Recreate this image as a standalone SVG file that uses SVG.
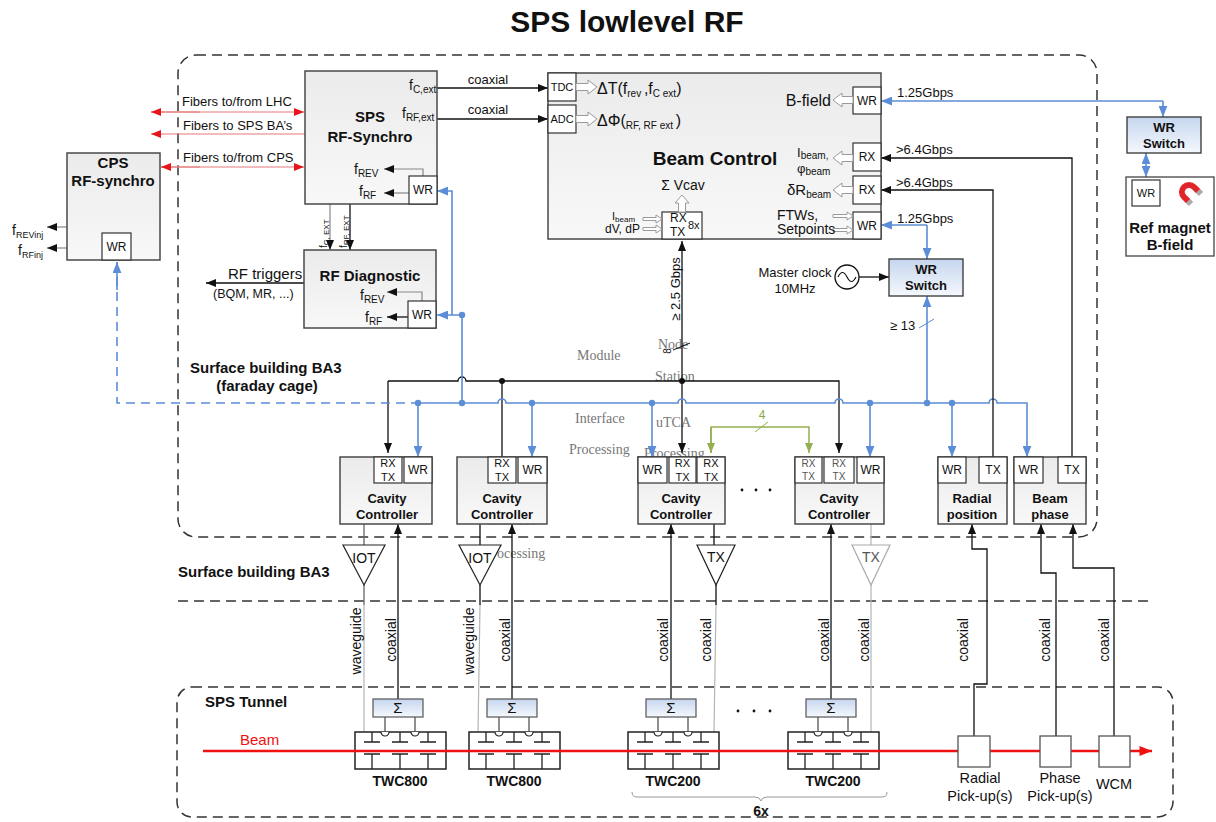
<svg xmlns="http://www.w3.org/2000/svg" width="1216" height="822" viewBox="0 0 1216 822">
<defs>
  <linearGradient id="gBox" x1="0" y1="0" x2="0" y2="1">
    <stop offset="0" stop-color="#ebebeb"/><stop offset="1" stop-color="#f8f8f8"/>
  </linearGradient>
  <linearGradient id="gBlue" x1="0" y1="0" x2="0" y2="1">
    <stop offset="0" stop-color="#c6d6ee"/><stop offset="1" stop-color="#f5f8fd"/>
  </linearGradient>
  <marker id="aK" viewBox="0 0 10 8" refX="10" refY="4" markerWidth="10" markerHeight="8" markerUnits="userSpaceOnUse" orient="auto"><path d="M0,0 L10,4 L0,8 z" fill="#111"/></marker>
  <marker id="aB" viewBox="0 0 10 8" refX="10" refY="4" markerWidth="11" markerHeight="9" markerUnits="userSpaceOnUse" orient="auto"><path d="M0,0 L10,4 L0,8 z" fill="#5b8ed6"/></marker>
  <marker id="aR" viewBox="0 0 10 8" refX="10" refY="4" markerWidth="10" markerHeight="8" markerUnits="userSpaceOnUse" orient="auto"><path d="M0,0 L10,4 L0,8 z" fill="#e8141b"/></marker>
  <marker id="aG" viewBox="0 0 10 8" refX="10" refY="4" markerWidth="10" markerHeight="9" markerUnits="userSpaceOnUse" orient="auto"><path d="M0,0 L10,4 L0,8 z" fill="#92b050"/></marker>
  <marker id="aBeam" viewBox="0 0 10 8" refX="10" refY="4" markerWidth="14" markerHeight="10" markerUnits="userSpaceOnUse" orient="auto"><path d="M0,0 L10,4 L0,8 z" fill="#f01010"/></marker>
  <!-- travelling-wave cavity body: 91 x 37 with couplers -->
  <g id="twc">
    <rect x="0" y="0" width="91" height="37" fill="#fff" stroke="#222" stroke-width="1.5"/>
    <path d="M17,0 V10 M9,10 H25 M45,0 V10 M37,10 H53 M73,0 V10 M65,10 H81 M9,22 H25 M17,22 V37 M37,22 H53 M45,22 V37 M65,22 H81 M73,22 V37" stroke="#222" stroke-width="1.3" fill="none"/>
    <path d="M26,0 a4,4 0 0 0 8,0 M56,0 a4,4 0 0 0 8,0" stroke="#222" stroke-width="1.2" fill="#fff"/>
    <rect x="18" y="-33" width="50" height="18" fill="url(#gBlue)" stroke="#555" stroke-width="1.2"/>
    <text x="43" y="-19" text-anchor="middle" font-family="Liberation Serif, serif" font-size="15" fill="#222">Σ</text>
    <path d="M30,-15 V0 M60,-15 V0" stroke="#555" stroke-width="1.3" fill="none"/>
  </g>
</defs>
<style>
  text{font-family:"Liberation Sans",Arial,sans-serif;fill:#111}
  .box{fill:url(#gBox);stroke:#4a4a4a;stroke-width:1.5}
  .sb{fill:#fff;stroke:#333;stroke-width:1.2}
  .bb{fill:url(#gBlue);stroke:#333;stroke-width:1.3}
  .k{stroke:#111;stroke-width:1.3;fill:none}
  .gl{stroke:#888;stroke-width:1.2;fill:none}
  .lg{stroke:#b5b5b5;stroke-width:1.2;fill:none}
  .b{stroke:#5b8ed6;stroke-width:1.6;fill:none}
  .bd{stroke:#5b8ed6;stroke-width:1.6;fill:none;stroke-dasharray:9 6}
  .fib{stroke:#e57a7a;stroke-width:1.2;fill:none}
  .dash{stroke:#333;stroke-width:1.5;stroke-dasharray:10 6;fill:none}
  .hol{fill:#fff;stroke:#9a9a9a;stroke-width:1}
  .ghost{font-family:"Liberation Serif",serif;fill:#777;font-size:14px}
  .t{font-size:12px;text-anchor:middle}
  .h{font-weight:bold;text-anchor:middle}
  .rot{font-size:14px;text-anchor:middle}
</style>

<rect width="1216" height="822" fill="#fff"/>
<text x="627" y="32" font-size="30" font-weight="bold" text-anchor="middle">SPS lowlevel RF</text>

<!-- building / tunnel outlines -->
<g id="areas">
  <rect x="178" y="55" width="919" height="482" rx="18" class="dash"/>
  <line x1="178" y1="601" x2="1150" y2="601" class="dash"/>
  <rect x="177" y="687" width="996" height="130" rx="15" class="dash"/>
  <text x="190" y="373" font-size="15" font-weight="bold">Surface building BA3</text>
  <text x="267" y="391" font-size="15" class="h">(faraday cage)</text>
  <text x="178" y="577" font-size="15" font-weight="bold">Surface building BA3</text>
  <text x="205" y="707" font-size="15" font-weight="bold">SPS Tunnel</text>
</g>

<!-- faint overlay labels -->
<g id="overlay-labels">
  <text x="577" y="360" class="ghost">Module</text>
  <text x="658" y="349" class="ghost">Node</text>
  <text x="655" y="381" class="ghost">Station</text>
  <text x="575" y="423" class="ghost">Interface</text>
  <text x="656" y="427" class="ghost">uTCA</text>
  <text x="569" y="454" class="ghost">Processing</text>
  <text x="644" y="458" class="ghost">Processing</text>
  <text x="487" y="525" class="ghost" style="fill:#aaa">interface</text>
  <text x="497" y="558" class="ghost">ocessing</text>
</g>

<!-- connectors -->
<g id="connectors">
  <!-- fibers -->
  <line x1="151" y1="112" x2="304" y2="112" class="fib" marker-end="url(#aR)"/>
  <line x1="200" y1="112" x2="151" y2="112" class="fib" marker-end="url(#aR)"/>
  <line x1="200" y1="134" x2="151" y2="134" class="fib" marker-end="url(#aR)"/>
  <line x1="200" y1="134" x2="305" y2="134" class="fib"/>
  <line x1="161" y1="167" x2="304" y2="167" class="fib" marker-end="url(#aR)"/>
  <line x1="200" y1="167" x2="161" y2="167" class="fib" marker-end="url(#aR)"/>
  <text x="182" y="106" font-size="13">Fibers to/from LHC</text>
  <text x="183" y="130" font-size="13">Fibers to SPS BA’s</text>
  <text x="183" y="162" font-size="13">Fibers to/from CPS</text>

  <!-- coaxial to beam control -->
  <line x1="437" y1="88" x2="548" y2="88" class="k" marker-end="url(#aK)"/>
  <line x1="437" y1="119" x2="548" y2="119" class="k" marker-end="url(#aK)"/>
  <text x="488" y="84" font-size="13" text-anchor="middle">coaxial</text>
  <text x="488" y="114" font-size="13" text-anchor="middle">coaxial</text>

  <!-- synchro to diagnostic -->
  <line x1="330" y1="204" x2="330" y2="250" class="gl" marker-end="url(#aK)"/>
  <line x1="350" y1="204" x2="350" y2="250" class="k" marker-end="url(#aK)"/>
  <text transform="translate(327,248) rotate(-90)" font-size="10">f<tspan font-size="8" dy="2">C, EXT</tspan></text>
  <text transform="translate(347,248) rotate(-90)" font-size="10">f<tspan font-size="8" dy="2">RF, EXT</tspan></text>

  <!-- RF triggers -->
  <line x1="304" y1="283" x2="206" y2="283" class="k" marker-end="url(#aK)"/>
  <text x="228" y="279" font-size="15">RF triggers</text>
  <text x="213" y="298" font-size="12.5">(BQM, MR, ...)</text>

  <!-- CPS outputs -->
  <line x1="67" y1="227" x2="47" y2="227" class="gl" marker-end="url(#aK)"/>
  <line x1="67" y1="248" x2="47" y2="248" class="gl" marker-end="url(#aK)"/>
  <text x="12" y="235" font-size="14">f<tspan font-size="9" dy="3">REVinj</tspan></text>
  <text x="18" y="255" font-size="14">f<tspan font-size="9" dy="3">RFinj</tspan></text>

  <!-- black node/station bus -->
  <path d="M388,381 H458 a4,4 0 0 1 8,0 H839 V453" class="k" marker-end="url(#aK)"/>
  <line x1="388" y1="381" x2="388" y2="453" class="k" marker-end="url(#aK)"/>
  <line x1="502" y1="381" x2="502" y2="457" class="k"/>
  <line x1="682" y1="381" x2="682" y2="241" class="k" marker-end="url(#aK)"/>
  <line x1="682" y1="381" x2="682" y2="453" class="k" marker-end="url(#aK)"/>
  <circle cx="502" cy="381" r="3" fill="#111"/>
  <circle cx="682" cy="381" r="3" fill="#111"/>
  <text transform="translate(680,289) rotate(-90)" font-size="13" text-anchor="middle">≥ 2.5 Gbps</text>
  <line x1="673" y1="350" x2="690" y2="343" stroke="#111" stroke-width="1"/>
  <text transform="translate(671,351) rotate(-90)" font-size="10" text-anchor="middle">8</text>

  <!-- green link between cavity controllers -->
  <path d="M711,453 V427 H809 V453" stroke="#92b050" stroke-width="1.5" fill="none" marker-end="url(#aG)"/>
  <line x1="711" y1="428" x2="711" y2="453" stroke="#92b050" stroke-width="1.5" marker-end="url(#aG)"/>
  <line x1="755" y1="432" x2="768" y2="422" stroke="#92b050" stroke-width="1"/>
  <text x="762" y="419" font-size="12" style="fill:#8aaa48" text-anchor="middle">4</text>

  <!-- white rabbit distribution (blue) -->
  <path d="M117,262 V403 H415" class="bd"/>
  <line x1="117" y1="290" x2="117" y2="262" class="b" marker-end="url(#aB)"/>
  <path d="M415,403 H498 a4,4 0 0 1 8,0 H678 a4,4 0 0 1 8,0 H835 a4,4 0 0 1 8,0 H989 a4,4 0 0 1 8,0 H1027 V457" class="b" marker-end="url(#aB)"/>
  <line x1="418" y1="403" x2="418" y2="457" class="b" marker-end="url(#aB)"/>
  <line x1="532" y1="403" x2="532" y2="457" class="b" marker-end="url(#aB)"/>
  <line x1="652" y1="403" x2="652" y2="457" class="b" marker-end="url(#aB)"/>
  <line x1="870" y1="403" x2="870" y2="457" class="b" marker-end="url(#aB)"/>
  <line x1="952" y1="403" x2="952" y2="457" class="b" marker-end="url(#aB)"/>
  <path d="M462,403 V315 H437" class="b" marker-end="url(#aB)"/>
  <path d="M452,315 V191 H437" class="b" marker-end="url(#aB)"/>
  <line x1="927" y1="403" x2="927" y2="296" class="b" marker-end="url(#aB)"/>
  <line x1="919" y1="328" x2="934" y2="319" stroke="#5b8ed6" stroke-width="1"/>
  <text x="890" y="330" font-size="13">≥ 13</text>
  <g fill="#5b8ed6">
    <circle cx="418" cy="403" r="3.2"/><circle cx="462" cy="403" r="3.2"/><circle cx="532" cy="403" r="3.2"/>
    <circle cx="652" cy="403" r="3.2"/><circle cx="870" cy="403" r="3.2"/><circle cx="927" cy="403" r="3.2"/>
    <circle cx="952" cy="403" r="3.2"/><circle cx="462" cy="315" r="3.2"/>
  </g>
  <path d="M927,225 H881" class="b" marker-end="url(#aB)"/>
  <path d="M927,225 V259" class="b" marker-end="url(#aB)"/>
  <path d="M1163,101 H881" class="b" marker-end="url(#aB)"/>
  <path d="M1163,101 V117" class="b" marker-end="url(#aB)"/>
  <line x1="1146" y1="165" x2="1146" y2="153" class="b" marker-end="url(#aB)"/>
  <line x1="1146" y1="165" x2="1146" y2="177" class="b" marker-end="url(#aB)"/>
  <text x="897" y="97" font-size="13">1.25Gbps</text>
  <text x="897" y="223" font-size="13">1.25Gbps</text>

  <!-- beam measurement links -->
  <path d="M1072,457 V158 H881" class="k" marker-end="url(#aK)"/>
  <path d="M993,457 V190 H881" class="k" marker-end="url(#aK)"/>
  <text x="896" y="154" font-size="13">&gt;6.4Gbps</text>
  <text x="896" y="187" font-size="13">&gt;6.4Gbps</text>

  <!-- master clock -->
  <line x1="859" y1="277" x2="889" y2="277" class="k" marker-end="url(#aK)"/>

  <!-- RF power chains -->
  <path d="M364,524 V545 M364,585 V605" stroke="#666" stroke-width="1.3" fill="none"/>
  <line x1="364" y1="605" x2="364" y2="732" class="lg"/>
  <path d="M480,524 V545 M480,585 V605" class="k"/>
  <line x1="480" y1="605" x2="478" y2="732" class="lg"/>
  <path d="M714,524 V545 M716,585 V605" class="k"/>
  <line x1="716" y1="605" x2="714" y2="732" class="lg"/>
  <path d="M871,524 V545 M871,585 V732" class="lg"/>
  <line x1="398" y1="699" x2="398" y2="524" class="k" marker-end="url(#aK)"/>
  <line x1="512" y1="699" x2="512" y2="524" class="k" marker-end="url(#aK)"/>
  <line x1="671" y1="699" x2="671" y2="524" class="k" marker-end="url(#aK)"/>
  <line x1="831" y1="699" x2="831" y2="524" class="k" marker-end="url(#aK)"/>
  <text transform="translate(361,641) rotate(-90)" class="rot">waveguide</text>
  <text transform="translate(396,640) rotate(-90)" class="rot">coaxial</text>
  <text transform="translate(474,641) rotate(-90)" class="rot">waveguide</text>
  <text transform="translate(510,640) rotate(-90)" class="rot">coaxial</text>
  <text transform="translate(668,640) rotate(-90)" class="rot">coaxial</text>
  <text transform="translate(711,640) rotate(-90)" class="rot">coaxial</text>
  <text transform="translate(829,640) rotate(-90)" class="rot">coaxial</text>
  <text transform="translate(869,640) rotate(-90)" class="rot">coaxial</text>

  <!-- pick-up cables -->
  <path d="M974,736 V684 H987 V549 H972 V524" class="k" marker-end="url(#aK)"/>
  <path d="M1056,736 V573 H1041 V524" class="k" marker-end="url(#aK)"/>
  <path d="M1114,736 V568 H1073 V524" class="k" marker-end="url(#aK)"/>
  <text transform="translate(968,640) rotate(-90)" class="rot">coaxial</text>
  <text transform="translate(1050,640) rotate(-90)" class="rot">coaxial</text>
  <text transform="translate(1109,640) rotate(-90)" class="rot">coaxial</text>
</g>

<!-- CPS RF-synchro -->
<g id="cps-synchro">
  <rect x="67" y="153" width="93" height="107" class="box"/>
  <text x="113" y="168" font-size="15" class="h">CPS</text>
  <text x="113" y="186" font-size="15" class="h">RF-synchro</text>
  <rect x="102" y="233" width="29" height="27" class="sb"/>
  <text x="116.5" y="251" class="t">WR</text>
</g>

<!-- SPS RF-Synchro -->
<g id="sps-synchro">
  <rect x="305" y="71" width="132" height="133" class="box"/>
  <text x="370" y="122" font-size="15" class="h">SPS</text>
  <text x="370" y="142" font-size="15" class="h">RF-Synchro</text>
  <text x="409" y="90" font-size="14">f<tspan font-size="10" dy="3">C,ext</tspan></text>
  <text x="402" y="118" font-size="14">f<tspan font-size="10" dy="3">RF,ext</tspan></text>
  <text x="354" y="174" font-size="14">f<tspan font-size="10" dy="3">REV</tspan></text>
  <text x="359" y="196" font-size="14">f<tspan font-size="10" dy="3">RF</tspan></text>
  <path d="M423,176 V169 H384" class="gl" marker-end="url(#aK)"/>
  <line x1="409" y1="193" x2="384" y2="193" class="gl" marker-end="url(#aK)"/>
  <rect x="409" y="176" width="28" height="28" class="sb"/>
  <text x="423" y="194" class="t">WR</text>
</g>

<!-- RF Diagnostic -->
<g id="rf-diagnostic">
  <rect x="304" y="250" width="132" height="78" class="box"/>
  <text x="370" y="281" font-size="15" class="h">RF Diagnostic</text>
  <text x="360" y="300" font-size="14">f<tspan font-size="10" dy="3">REV</tspan></text>
  <text x="365" y="322" font-size="14">f<tspan font-size="10" dy="3">RF</tspan></text>
  <path d="M422,301 V292 H387" class="gl" marker-end="url(#aK)"/>
  <line x1="408" y1="317" x2="387" y2="317" class="k" marker-end="url(#aK)"/>
  <rect x="408" y="301" width="28" height="27" class="sb"/>
  <text x="422" y="319" class="t">WR</text>
</g>

<!-- Beam Control -->
<g id="beam-control">
  <rect x="548" y="73" width="333" height="166" class="box"/>
  <rect x="548" y="73" width="28" height="28" class="sb"/>
  <text x="562" y="91" font-size="11" text-anchor="middle">TDC</text>
  <rect x="548" y="105" width="28" height="28" class="sb"/>
  <text x="562" y="123" font-size="11" text-anchor="middle">ADC</text>
  <polygon class="hol" points="576,83.5 588,83.5 588,80 597,87 588,94 588,90.5 576,90.5"/>
  <polygon class="hol" points="576,115.5 588,115.5 588,112 597,119 588,126 588,122.5 576,122.5"/>
  <text x="597" y="94" font-size="16">ΔT(f<tspan font-size="10" dy="3">rev </tspan><tspan dy="-3">,f</tspan><tspan font-size="10" dy="3">C ext</tspan><tspan dy="-3">)</tspan></text>
  <text x="597" y="126" font-size="16">ΔΦ(<tspan font-size="10" dy="3">RF, RF ext </tspan><tspan dy="-3">)</tspan></text>
  <text x="715" y="165" font-size="19" class="h">Beam Control</text>

  <rect x="853" y="87" width="28" height="27" class="sb"/>
  <text x="867" y="105" class="t">WR</text>
  <polygon class="hol" points="853,96.5 842,96.5 842,93 833,100 842,107 842,103.5 853,103.5"/>
  <text x="831" y="106" font-size="16" text-anchor="end">B-field</text>

  <rect x="853" y="143" width="28" height="28" class="sb"/>
  <text x="867" y="161" class="t">RX</text>
  <polygon class="hol" points="853,154.5 842,154.5 842,151 833,158 842,165 842,161.5 853,161.5"/>
  <text x="797" y="157" font-size="13">I<tspan font-size="10" dy="2">beam,</tspan></text>
  <text x="797" y="173" font-size="13">φ<tspan font-size="10" dy="2">beam</tspan></text>

  <rect x="853" y="176" width="28" height="28" class="sb"/>
  <text x="867" y="194" class="t">RX</text>
  <polygon class="hol" points="853,186.5 842,186.5 842,183 833,190 842,197 842,193.5 853,193.5"/>
  <text x="787" y="195" font-size="15">δR<tspan font-size="10" dy="3">beam</tspan></text>

  <rect x="853" y="212" width="28" height="27" class="sb"/>
  <text x="867" y="230" class="t">WR</text>
  <polygon class="hol" points="833,214.5 847,214.5 847,212 853,216 847,220 847,217.5 833,217.5"/>
  <polygon class="hol" points="833,228.5 847,228.5 847,226 853,230 847,234 847,231.5 833,231.5"/>
  <text x="777" y="220" font-size="14">FTWs,</text>
  <text x="777" y="234" font-size="14">Setpoints</text>

  <rect x="662" y="212" width="40" height="27" class="sb"/>
  <text x="670" y="222" font-size="12">RX</text>
  <text x="670" y="236" font-size="12">TX</text>
  <text x="688" y="229" font-size="11">8x</text>
  <polygon class="hol" points="678.5,212 678.5,203 675,203 682,195 689,203 685.5,203 685.5,212"/>
  <text x="683" y="190" font-size="14" text-anchor="middle">Σ Vcav</text>
  <polygon class="hol" points="643,217.5 656,217.5 656,215 662,219 656,223 656,220.5 643,220.5"/>
  <polygon class="hol" points="643,227.5 656,227.5 656,225 662,229 656,233 656,230.5 643,230.5"/>
  <text x="612" y="220" font-size="11">I<tspan font-size="8" dy="2">beam</tspan></text>
  <text x="605" y="233" font-size="12">dV, dP</text>
</g>

<!-- master clock -->
<g id="master-clock">
  <circle cx="847" cy="277" r="12" fill="#fff" stroke="#111" stroke-width="1.3"/>
  <path d="M838,277 q4.5,-9 9,0 t9,0" stroke="#111" stroke-width="1.2" fill="none"/>
  <text x="795" y="277" font-size="13" text-anchor="middle">Master clock</text>
  <text x="795" y="293" font-size="13" text-anchor="middle">10MHz</text>
</g>

<!-- WR switches -->
<g id="wr-switch-main">
  <rect x="889" y="259" width="74" height="37" class="bb"/>
  <text x="926" y="274" font-size="13" class="h">WR</text>
  <text x="926" y="290" font-size="13" class="h">Switch</text>
</g>
<g id="wr-switch-magnet">
  <rect x="1127" y="117" width="74" height="36" class="bb"/>
  <text x="1164" y="132" font-size="13" class="h">WR</text>
  <text x="1164" y="148" font-size="13" class="h">Switch</text>
</g>
<g id="ref-magnet">
  <rect x="1126" y="177" width="88" height="79" fill="#fff" stroke="#444" stroke-width="1.3"/>
  <rect x="1132" y="180" width="28" height="26" class="sb"/>
  <text x="1146" y="197" font-size="11" text-anchor="middle">WR</text>
  <path d="M1198.2,191.2 L1194,187 A7,7 0 0 0 1184,197 L1188.2,201.2" stroke="#e0262a" stroke-width="6" fill="none"/>
  <path d="M1198.2,191.2 L1201,194 M1188.2,201.2 L1191,204" stroke="#aaa" stroke-width="6" fill="none"/>
  <text x="1170" y="233" font-size="15" class="h">Ref magnet</text>
  <text x="1170" y="250" font-size="15" class="h">B-field</text>
</g>

<!-- cavity controllers -->
<g id="cavity-controller-1">
  <rect x="340" y="457" width="92" height="67" class="box"/>
  <rect x="374" y="457" width="28" height="26" class="sb"/>
  <text x="388" y="467" font-size="11" text-anchor="middle">RX</text>
  <text x="388" y="481" font-size="11" text-anchor="middle">TX</text>
  <rect x="404" y="457" width="28" height="26" class="sb"/>
  <text x="418" y="474" class="t">WR</text>
  <text x="387" y="503" font-size="13" class="h">Cavity</text>
  <text x="387" y="519" font-size="13" class="h">Controller</text>
</g>
<g id="cavity-controller-2">
  <rect x="457" y="457" width="90" height="67" class="box"/>
  <rect x="488" y="457" width="28" height="26" class="sb"/>
  <text x="502" y="467" font-size="11" text-anchor="middle">RX</text>
  <text x="502" y="481" font-size="11" text-anchor="middle">TX</text>
  <rect x="518" y="457" width="29" height="26" class="sb"/>
  <text x="532.5" y="474" class="t">WR</text>
  <text x="502" y="503" font-size="13" class="h">Cavity</text>
  <text x="502" y="519" font-size="13" class="h">Controller</text>
</g>
<g id="cavity-controller-3">
  <rect x="638" y="457" width="87" height="67" class="box"/>
  <rect x="638" y="457" width="29" height="26" class="sb"/>
  <text x="652.5" y="474" class="t">WR</text>
  <rect x="669" y="457" width="27" height="26" class="sb"/>
  <text x="682.5" y="467" font-size="11" text-anchor="middle">RX</text>
  <text x="682.5" y="481" font-size="11" text-anchor="middle">TX</text>
  <rect x="697" y="457" width="28" height="26" class="sb"/>
  <text x="711" y="467" font-size="11" text-anchor="middle">RX</text>
  <text x="711" y="481" font-size="11" text-anchor="middle">TX</text>
  <text x="681" y="503" font-size="13" class="h">Cavity</text>
  <text x="681" y="519" font-size="13" class="h">Controller</text>
</g>
<g id="dots-controllers" fill="#111">
  <circle cx="742" cy="490" r="1.4"/><circle cx="756" cy="490" r="1.4"/><circle cx="770" cy="490" r="1.4"/>
</g>
<g id="cavity-controller-4">
  <rect x="795" y="457" width="89" height="67" class="box"/>
  <rect x="795" y="457" width="27" height="26" class="sb"/>
  <text x="808.5" y="467" font-size="10" style="fill:#555" text-anchor="middle">RX</text>
  <text x="808.5" y="480" font-size="10" style="fill:#555" text-anchor="middle">TX</text>
  <rect x="824" y="457" width="30" height="26" class="sb"/>
  <text x="839" y="467" font-size="10" style="fill:#555" text-anchor="middle">RX</text>
  <text x="839" y="480" font-size="10" style="fill:#555" text-anchor="middle">TX</text>
  <rect x="857" y="457" width="27" height="26" class="sb"/>
  <text x="870.5" y="474" class="t">WR</text>
  <text x="839" y="503" font-size="13" class="h">Cavity</text>
  <text x="839" y="519" font-size="13" class="h">Controller</text>
</g>
<g id="radial-position">
  <rect x="938" y="457" width="69" height="67" class="box"/>
  <rect x="938" y="457" width="28" height="26" class="sb"/>
  <text x="952" y="474" class="t">WR</text>
  <rect x="979" y="457" width="28" height="26" class="sb"/>
  <text x="993" y="474" class="t">TX</text>
  <text x="972" y="503" font-size="13" class="h">Radial</text>
  <text x="972" y="519" font-size="13" class="h">position</text>
</g>
<g id="beam-phase">
  <rect x="1014" y="457" width="72" height="67" class="box"/>
  <rect x="1014" y="457" width="29" height="26" class="sb"/>
  <text x="1028.5" y="474" class="t">WR</text>
  <rect x="1058" y="457" width="28" height="26" class="sb"/>
  <text x="1072" y="474" class="t">TX</text>
  <text x="1050" y="503" font-size="13" class="h">Beam</text>
  <text x="1050" y="519" font-size="13" class="h">phase</text>
</g>

<!-- amplifiers -->
<g id="iot-1"><path d="M343,545 H385 L364,585 Z" fill="#fff" stroke="#222" stroke-width="1.2"/><text x="364" y="563" font-size="14" text-anchor="middle">IOT</text></g>
<g id="iot-2"><path d="M459,545 H501 L480,585 Z" fill="#fff" stroke="#222" stroke-width="1.2"/><text x="480" y="563" font-size="14" text-anchor="middle">IOT</text></g>
<g id="tx-1"><path d="M697,545 H735 L716,585 Z" fill="#fff" stroke="#222" stroke-width="1.2"/><text x="716" y="562" font-size="14" text-anchor="middle">TX</text></g>
<g id="tx-2"><path d="M852,545 H890 L871,585 Z" fill="#fff" stroke="#aaa" stroke-width="1.2"/><text x="871" y="562" font-size="14" style="fill:#555" text-anchor="middle">TX</text></g>

<!-- cavities in the tunnel -->
<g id="twc800-1"><use href="#twc" x="355" y="732"/><text x="400" y="786" font-size="14" class="h">TWC800</text></g>
<g id="twc800-2"><use href="#twc" x="469" y="732"/><text x="514" y="786" font-size="14" class="h">TWC800</text></g>
<g id="twc200-1"><use href="#twc" x="628" y="732"/><text x="673" y="786" font-size="14" class="h">TWC200</text></g>
<g id="twc200-2"><use href="#twc" x="788" y="732"/><text x="833" y="786" font-size="14" class="h">TWC200</text></g>
<g id="dots-cavities" fill="#111">
  <circle cx="738" cy="711" r="1.4"/><circle cx="754" cy="711" r="1.4"/><circle cx="770" cy="711" r="1.4"/>
</g>
<g id="group-brace">
  <path d="M632,792 q0,5 5,5 H755 q5,0 6,4 q1,-4 6,-4 H882 q5,0 5,-5" stroke="#999" stroke-width="1" fill="none"/>
  <text x="761" y="816" font-size="14" class="h">6x</text>
</g>

<!-- beam -->
<g id="beam">
  <line x1="203" y1="751" x2="1152" y2="751" stroke="#f01010" stroke-width="2.6" marker-end="url(#aBeam)"/>
  <text x="240" y="745" font-size="15" style="fill:#f01010">Beam</text>
</g>

<!-- pick-ups -->
<g id="radial-pickup">
  <rect x="958" y="736" width="32" height="31" fill="#fff" stroke="#555" stroke-width="1.3"/>
  <text x="980" y="783" font-size="14.5" text-anchor="middle">Radial</text>
  <text x="980" y="801" font-size="14.5" text-anchor="middle">Pick-up(s)</text>
</g>
<g id="phase-pickup">
  <rect x="1040" y="736" width="31" height="31" fill="#fff" stroke="#555" stroke-width="1.3"/>
  <text x="1060" y="783" font-size="14.5" text-anchor="middle">Phase</text>
  <text x="1060" y="801" font-size="14.5" text-anchor="middle">Pick-up(s)</text>
</g>
<g id="wcm">
  <rect x="1099" y="736" width="31" height="31" fill="#fff" stroke="#555" stroke-width="1.3"/>
  <text x="1114" y="789" font-size="14.5" text-anchor="middle">WCM</text>
</g>
</svg>
